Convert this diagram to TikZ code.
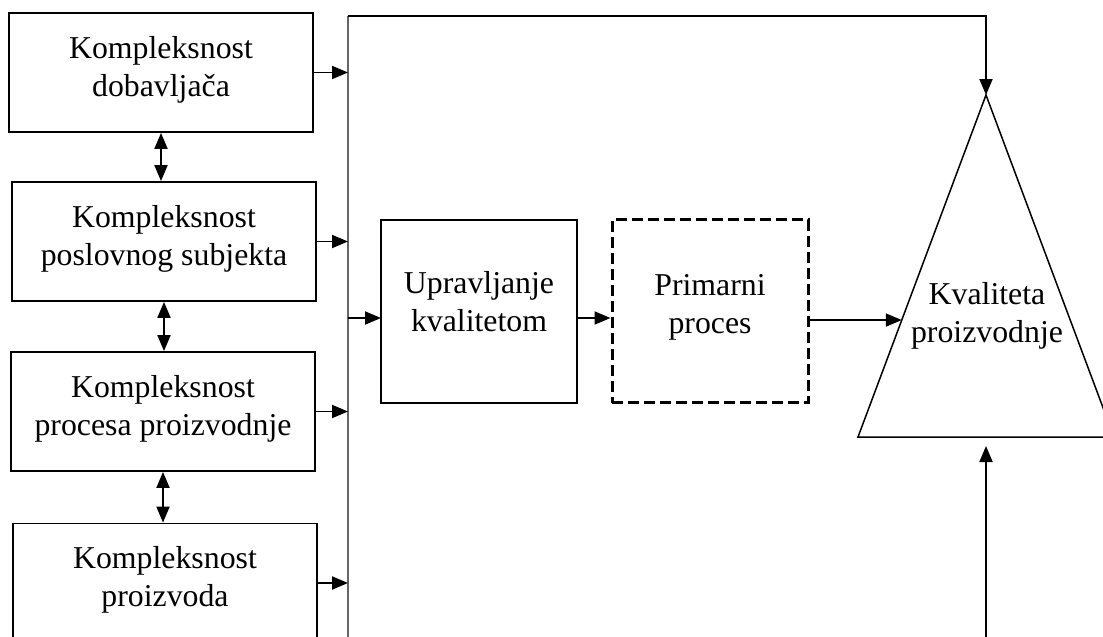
\documentclass[tikz,border=0pt]{standalone}
\usepackage{fontspec}
\setmainfont{Liberation Serif}
\usetikzlibrary{arrows.meta,calc}
\begin{document}
\begin{tikzpicture}[x=1pt,y=-1pt,
  lbl/.style={font=\fontsize{31.8}{38}\selectfont,align=center,inner sep=0pt},
  box/.style={lbl,draw,line width=1.8pt,minimum width=304pt,minimum height=119pt,text depth=13pt},
  midbox/.style={lbl,draw,line width=1.8pt,minimum width=196pt,minimum height=183pt},
  dashbox/.style={midbox,line width=3pt,dash pattern=on 11pt off 5pt},
  ln/.style={line width=1.9pt},
  tip/.tip={Triangle[length=16pt,width=13pt]},
  arr/.style={ln,-tip},
  darr/.style={ln,tip-tip},
  bus/.style={line width=2.8pt,black!60}]
\useasboundingbox (0,0) rectangle (1103,637);
\clip (0,0) rectangle (1103,637);
% left column
\node[box] (b1) at (161,72.5) {Kompleksnost\\dobavljača};
\node[box] (b2) at (164,241.5) {Kompleksnost\\poslovnog subjekta};
\node[box] (b3) at (163,411.5) {Kompleksnost\\procesa proizvodnje};
\node[box] (b4) at (165,583) {Kompleksnost\\proizvoda};
\draw[darr] (b1.south) -- (b1.south |- b2.north);
\draw[darr] (b2.south) -- (b2.south |- b3.north);
\draw[darr] (b3.south) -- (b3.south |- b4.north);
% bus
\coordinate (bt) at (348,16);
\coordinate (bb) at (348,640);
\draw[bus] (bt) -- (bb);
\draw[arr] (b1.east) -- (b1.east -| bt);
\draw[arr] (b2.east) -- (b2.east -| bt);
\draw[arr] (b3.east) -- (b3.east -| bt);
\draw[arr] (b4.east) -- (b4.east -| bt);
% middle
\node[midbox,text depth=20pt] (uk) at (479,311.5) {Upravljanje\\kvalitetom};
\node[dashbox,text depth=14pt] (pp) at (710,311) {Primarni\\proces};
\coordinate (ukin) at (381,318);
\draw[arr] (ukin -| bt) -- (ukin);
\draw[arr] (uk.east |- ukin) -- (pp.west |- ukin);
% triangle
\coordinate (apex) at (986,95);
\coordinate (bl) at (858,437);
\coordinate (br) at (1114,437);
\draw[line width=1.5pt,line join=miter] (apex) -- (bl) -- (br) -- cycle;
\node[lbl] (kp) at (987,316) {Kvaliteta\\proizvodnje};
\coordinate (le) at ($(apex)!0.658!(bl)$);
\draw[arr] (pp.east |- le) -- (le);
\draw[arr] (bt) -- (apex |- bt) -- (apex);
\coordinate (bot) at (986,640);
\draw[arr] (bot) -- ($(apex |- bl)+(0,9)$);
\end{tikzpicture}
\end{document}
